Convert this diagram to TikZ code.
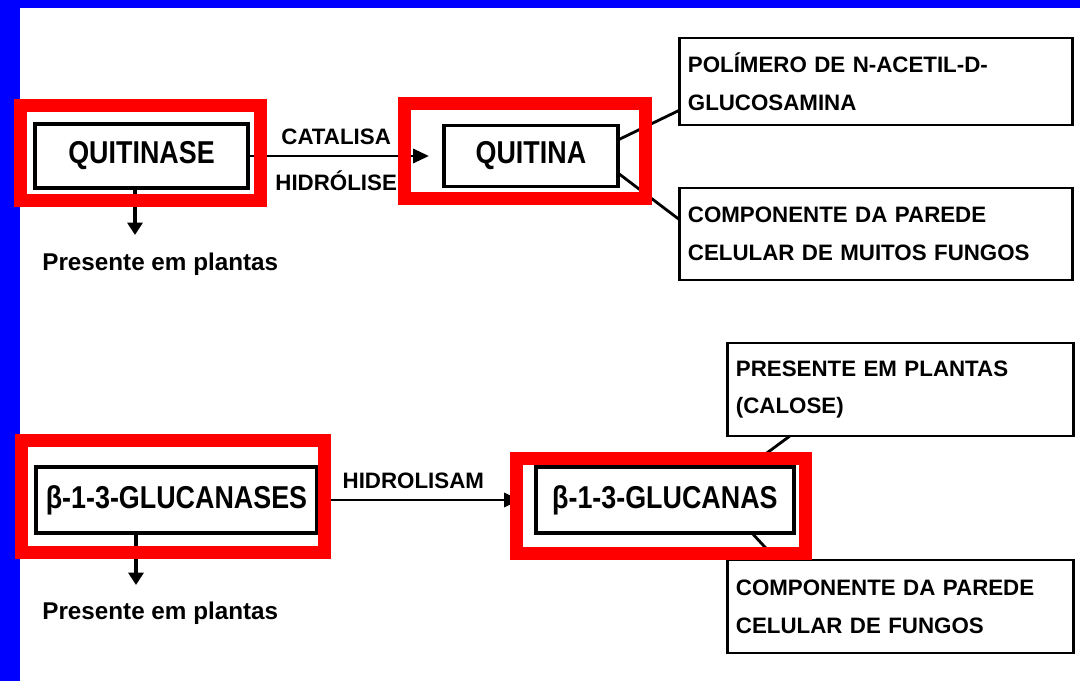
\documentclass[tikz,border=0pt]{standalone}
\usepackage{fontspec}
\setmainfont{Liberation Sans}
\newfontfamily\condfont{Liberation Sans}[FakeStretch=0.85]
\usetikzlibrary{arrows.meta,positioning}

\begin{document}
\begin{tikzpicture}[
    x=0.02cm, y=0.02cm,
    every node/.style={font=\bfseries},
    enzyme/.style={draw, line width=2pt, inner sep=0pt, outer sep=0pt, font=\condfont\bfseries\fontsize{18}{20}\selectfont},
    note/.style={draw, line width=1.6pt, align=left, inner xsep=0.16cm, outer sep=0pt, font=\bfseries\fontsize{12.7}{21.6}\selectfont},
    arrowlbl/.style={font=\bfseries\fontsize{12.7}{14}\selectfont},
    plantlbl/.style={anchor=base west, inner sep=0pt, font=\bfseries\fontsize{13.8}{16}\selectfont},
    redframe/.style={draw=red, line width=0.26cm},
    flow/.style={-{Triangle[length=9pt, width=8pt]}, line width=1.6pt},
    down/.style={-{Triangle[length=7pt, width=8.5pt]}, line width=1.8pt},
    link/.style={line width=1.6pt}
]
\useasboundingbox (0,0) rectangle (1080,681);
\fill[white] (0,0) rectangle (1080,681);
\fill[blue] (0,0) rectangle (20,681);
\fill[blue] (0,673) rectangle (1080,681);

% quitinase / quitina
\node[enzyme, minimum width=4.26cm, minimum height=1.28cm] (quitinase) at (141.5,525) {QUITINASE};
\node[enzyme, minimum width=3.48cm, minimum height=1.22cm, right=3.92cm of quitinase] (quitina) {QUITINA};
\node[note, text width=7.54cm, minimum height=1.74cm, above right=0.01cm and 1.24cm of quitina] (polimero) {POLÍMERO DE N-ACETIL-D-\\GLUCOSAMINA};
\node[note, text width=7.54cm, minimum height=1.84cm, below right=0.03cm and 1.24cm of quitina] (paredeA) {COMPONENTE DA PAREDE\\CELULAR DE MUITOS FUNGOS};
\node[plantlbl] (plantasA) at (42,411) {Presente em plantas};

\draw[flow, shorten >=0.3cm] (quitinase.east) -- node[arrowlbl, pos=0.45, above=2.5pt] (catalisa) {CATALISA} node[arrowlbl, pos=0.45, below=4.5pt] (hidrolise) {HIDRÓLISE} (quitina.west);
\draw[down] ([xshift=-0.13cm]quitinase.south) -- ++(0,-47) coordinate (tipA);
\draw[link] ([yshift=0.32cm]quitina.east) -- ([yshift=-0.57cm]polimero.west);
\draw[link] ([yshift=-0.34cm]quitina.east) -- ([yshift=0.28cm]paredeA.west);

% glucanases / glucanas
\node[enzyme, minimum width=5.62cm, minimum height=1.32cm] (glucanases) at (176.5,181) {β-1-3-GLUCANASES};
\node[enzyme, minimum width=5.16cm, minimum height=1.32cm, right=4.38cm of glucanases] (glucanas) {β-1-3-GLUCANAS};
\node[note, text width=6.6cm, minimum height=1.86cm, above right=0.62cm and -1.32cm of glucanas] (calose) {PRESENTE EM PLANTAS\\(CALOSE)};
\node[note, text width=6.6cm, minimum height=1.86cm, below right=0.54cm and -1.32cm of glucanas] (paredeB) {COMPONENTE DA PAREDE\\CELULAR DE FUNGOS};
\node[plantlbl] (plantasB) at (42,62) {Presente em plantas};

\draw[flow, shorten >=0.32cm] (glucanases.east) -- node[arrowlbl, pos=0.44, above=2.5pt] (hidrolisam) {HIDROLISAM} (glucanas.west);
\draw[down] ([xshift=-0.81cm]glucanases.south) -- ++(0,-52) coordinate (tipB);
\draw[link] ([xshift=-2.22cm]calose.south) -- ([xshift=1.66cm]glucanas.north);
\draw[link] ([xshift=1.74cm]glucanas.south) -- ([xshift=-2.48cm]paredeB.north);

% red highlights
\draw[redframe] ([shift={(-14.5,-12.5)}]quitinase.south west) rectangle ([shift={(12.5,19)}]quitinase.north east);
\draw[redframe] ([shift={(-39.5,-12.5)}]quitina.south west) rectangle ([shift={(27.5,22)}]quitina.north east);
\draw[redframe] ([shift={(-15,-19.5)}]glucanases.south west) rectangle ([shift={(7.5,26.5)}]glucanases.north east);
\draw[redframe] ([shift={(-19.5,-20.5)}]glucanas.south west) rectangle ([shift={(11.5,8.5)}]glucanas.north east);
\end{tikzpicture}
\end{document}
